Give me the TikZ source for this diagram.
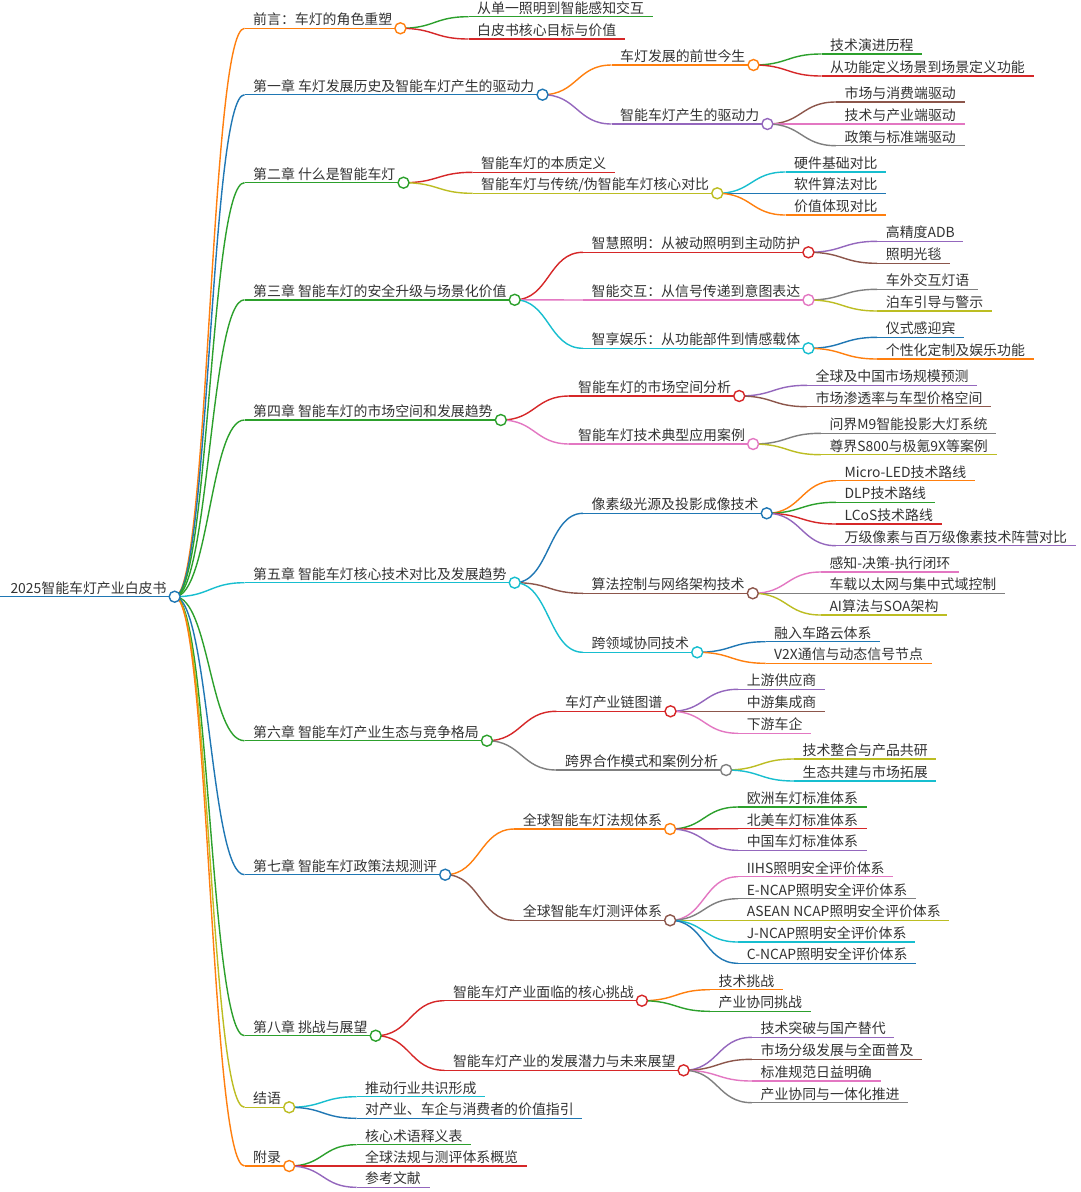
\documentclass[tikz,border=0pt]{standalone}
\usepackage{fontspec}
\setmainfont{Noto Sans CJK SC}
\pgfdeclarelayer{background}
\pgfsetlayers{background,main}
\definecolor{cB}{HTML}{1F77B4}
\definecolor{cO}{HTML}{FF7F0E}
\definecolor{cG}{HTML}{2CA02C}
\definecolor{cR}{HTML}{D62728}
\definecolor{cP}{HTML}{9467BD}
\definecolor{cN}{HTML}{8C564B}
\definecolor{cK}{HTML}{E377C2}
\definecolor{cY}{HTML}{7F7F7F}
\definecolor{cL}{HTML}{BCBD22}
\definecolor{cC}{HTML}{17BECF}
\definecolor{txtc}{HTML}{333333}
\tikzset{
  txt/.style={inner sep=0pt, text=txtc, font=\fontsize{13.9pt}{16pt}\selectfont},
  link/.style={line width=1.4pt},
}
\newcommand\mmbody[6]{%
  \coordinate (#1-s) at (#3,#4);
  \node[txt, anchor=base west] (#1-t) at (#3+8.5,#4-3.5) {#6};
  \begin{pgfonlayer}{background}
  \draw[link, #5] (#2) .. controls +(34.5,0) and +(-34.5,0) .. (#1-s);
  \end{pgfonlayer}
}
\newcommand\mmi[6]{%
  \mmbody{#1}{#2-c}{#3}{#4}{#5}{#6}
  \path (#1-t.base east |- #1-s) ++(8,0) coordinate (#1-c);
  \begin{pgfonlayer}{background}
  \draw[link, #5] (#1-s) -- (#1-c);
  \end{pgfonlayer}
  \draw[link, #5, fill=white] (#1-c) circle[radius=5.5pt];
}
\newcommand\mml[6]{%
  \mmbody{#1}{#2-c}{#3}{#4}{#5}{#6}
  \path (#1-t.base east |- #1-s) ++(8.5,0) coordinate (#1-e);
  \begin{pgfonlayer}{background}
  \draw[link, #5] (#1-s) -- (#1-e);
  \end{pgfonlayer}
}
\begin{document}
\begin{tikzpicture}[x=1pt,y=-1pt]
\begin{pgfonlayer}{background}
\fill[white] (0,0) rectangle (1080,1192);
\end{pgfonlayer}
\useasboundingbox (0,0) rectangle (1080,1192);
% root
\coordinate (root-s) at (0,596.7);
\node[txt, anchor=base west] (root-t) at (10.3,593.2) {2025智能车灯产业白皮书};
\path (root-t.base east |- root-s) ++(8,0) coordinate (root-c);
\begin{pgfonlayer}{background}
\draw[link, cB] (root-s) -- (root-c);
\end{pgfonlayer}
\draw[link, cB, fill=white] (root-c) circle[radius=5.5pt];

% level 1
\mmi{a}{root}{244.5}{28.3}{cO}{前言：车灯的角色重塑}
\mmi{b}{root}{244.5}{94.7}{cB}{第一章 车灯发展历史及智能车灯产生的驱动力}
\mmi{c}{root}{244.5}{182.7}{cG}{第二章 什么是智能车灯}
\mmi{d}{root}{244.5}{299.8}{cG}{第三章 智能车灯的安全升级与场景化价值}
\mmi{e}{root}{244.5}{420}{cG}{第四章 智能车灯的市场空间和发展趋势}
\mmi{f}{root}{244.5}{582.7}{cC}{第五章 智能车灯核心技术对比及发展趋势}
\mmi{g}{root}{244.5}{740.7}{cG}{第六章 智能车灯产业生态与竞争格局}
\mmi{h}{root}{244.5}{874.7}{cB}{第七章 智能车灯政策法规测评}
\mmi{i}{root}{244.5}{1035.7}{cG}{第八章 挑战与展望}
\mmi{j}{root}{244.5}{1107.3}{cL}{结语}
\mmi{k}{root}{244.5}{1166}{cO}{附录}

% 前言
\mml{a1}{a}{468.5}{16.7}{cG}{从单一照明到智能感知交互}
\mml{a2}{a}{468.5}{39}{cR}{白皮书核心目标与价值}
% 第一章
\mmi{b1}{b}{611.5}{65}{cO}{车灯发展的前世今生}
\mml{b1a}{b1}{821.5}{54}{cG}{技术演进历程}
\mml{b1b}{b1}{821.5}{76}{cR}{从功能定义场景到场景定义功能}
\mmi{b2}{b}{611.5}{124}{cP}{智能车灯产生的驱动力}
\mml{b2a}{b2}{835.9}{102}{cN}{市场与消费端驱动}
\mml{b2b}{b2}{835.9}{124}{cK}{技术与产业端驱动}
\mml{b2c}{b2}{835.9}{145.7}{cY}{政策与标准端驱动}
% 第二章
\mml{c1}{c}{472.5}{172.3}{cR}{智能车灯的本质定义}
\mmi{c2}{c}{472.5}{193.3}{cL}{智能车灯与传统/伪智能车灯核心对比}
\mml{c2a}{c2}{785.5}{172}{cC}{硬件基础对比}
\mml{c2b}{c2}{785.5}{193.3}{cB}{软件算法对比}
\mml{c2c}{c2}{785.5}{215}{cO}{价值体现对比}
% 第三章
\mmi{d1}{d}{583}{252.3}{cR}{智慧照明：从被动照明到主动防护}
\mml{d1a}{d1}{877.2}{241.3}{cP}{高精度ADB}
\mml{d1b}{d1}{877.2}{263.3}{cN}{照明光毯}
\mmi{d2}{d}{583}{300}{cK}{智能交互：从信号传递到意图表达}
\mml{d2a}{d2}{877.2}{289.3}{cY}{车外交互灯语}
\mml{d2b}{d2}{877.2}{311}{cL}{泊车引导与警示}
\mmi{d3}{d}{583}{348.3}{cC}{智享娱乐：从功能部件到情感载体}
\mml{d3a}{d3}{877.2}{337.3}{cB}{仪式感迎宾}
\mml{d3b}{d3}{877.2}{359}{cO}{个性化定制及娱乐功能}
% 第四章
\mmi{e1}{e}{569.4}{396}{cR}{智能车灯的市场空间分析}
\mml{e1a}{e1}{807}{385.3}{cP}{全球及中国市场规模预测}
\mml{e1b}{e1}{807}{406.7}{cN}{市场渗透率与车型价格空间}
\mmi{e2}{e}{569.4}{444}{cK}{智能车灯技术典型应用案例}
\mml{e2a}{e2}{820.8}{433.3}{cY}{问界M9智能投影大灯系统}
\mml{e2b}{e2}{820.8}{454.7}{cL}{尊界S800与极氪9X等案例}
% 第五章
\mmi{f1}{f}{583}{513.3}{cB}{像素级光源及投影成像技术}
\mml{f1a}{f1}{835.9}{480.7}{cO}{Micro-LED技术路线}
\mml{f1b}{f1}{835.9}{502.3}{cG}{DLP技术路线}
\mml{f1c}{f1}{835.9}{524}{cR}{LCoS技术路线}
\mml{f1d}{f1}{835.9}{545.7}{cP}{万级像素与百万级像素技术阵营对比}
\mmi{f2}{f}{583}{593.3}{cN}{算法控制与网络架构技术}
\mml{f2a}{f2}{820.8}{572}{cK}{感知-决策-执行闭环}
\mml{f2b}{f2}{820.8}{593.3}{cY}{车载以太网与集中式域控制}
\mml{f2c}{f2}{820.8}{615}{cL}{AI算法与SOA架构}
\mmi{f3}{f}{583}{652.3}{cC}{跨领域协同技术}
\mml{f3a}{f3}{765.5}{641.7}{cB}{融入车路云体系}
\mml{f3b}{f3}{765.5}{663.3}{cO}{V2X通信与动态信号节点}
% 第六章
\mmi{g1}{g}{556.3}{711.3}{cR}{车灯产业链图谱}
\mml{g1a}{g1}{738.1}{689.3}{cP}{上游供应商}
\mml{g1b}{g1}{738.1}{711.3}{cN}{中游集成商}
\mml{g1c}{g1}{738.1}{733.3}{cK}{下游车企}
\mmi{g2}{g}{556.3}{770}{cY}{跨界合作模式和案例分析}
\mml{g2a}{g2}{793.9}{759}{cL}{技术整合与产品共研}
\mml{g2b}{g2}{793.9}{781}{cC}{生态共建与市场拓展}
% 第七章
\mmi{h1}{h}{514.2}{829}{cO}{全球智能车灯法规体系}
\mml{h1a}{h1}{738.1}{807}{cG}{欧洲车灯标准体系}
\mml{h1b}{h1}{738.1}{828.7}{cR}{北美车灯标准体系}
\mml{h1c}{h1}{738.1}{850.3}{cP}{中国车灯标准体系}
\mmi{h2}{h}{514.2}{920.3}{cN}{全球智能车灯测评体系}
\mml{h2a}{h2}{738.1}{876.7}{cK}{IIHS照明安全评价体系}
\mml{h2b}{h2}{738.1}{898.7}{cY}{E-NCAP照明安全评价体系}
\mml{h2c}{h2}{738.1}{920.3}{cL}{ASEAN NCAP照明安全评价体系}
\mml{h2d}{h2}{738.1}{942}{cC}{J-NCAP照明安全评价体系}
\mml{h2e}{h2}{738.1}{963.3}{cB}{C-NCAP照明安全评价体系}
% 第八章
\mmi{i1}{i}{444.3}{1000.7}{cR}{智能车灯产业面临的核心挑战}
\mml{i1a}{i1}{709.9}{989.7}{cO}{技术挑战}
\mml{i1b}{i1}{709.9}{1011.3}{cG}{产业协同挑战}
\mmi{i2}{i}{444.3}{1070.3}{cR}{智能车灯产业的发展潜力与未来展望}
\mml{i2a}{i2}{751.9}{1037.3}{cP}{技术突破与国产替代}
\mml{i2b}{i2}{751.9}{1059.3}{cN}{市场分级发展与全面普及}
\mml{i2c}{i2}{751.9}{1081}{cK}{标准规范日益明确}
\mml{i2d}{i2}{751.9}{1102.7}{cY}{产业协同与一体化推进}
% 结语
\mml{j1}{j}{356.5}{1096.7}{cC}{推动行业共识形成}
\mml{j2}{j}{356.5}{1118.3}{cB}{对产业、车企与消费者的价值指引}
% 附录
\mml{k1}{k}{356.5}{1144.7}{cG}{核心术语释义表}
\mml{k2}{k}{356.5}{1166}{cR}{全球法规与测评体系概览}
\mml{k3}{k}{356.5}{1187.3}{cP}{参考文献}
\end{tikzpicture}
\end{document}
